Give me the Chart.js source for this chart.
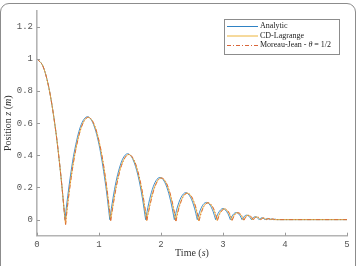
<!DOCTYPE html>
<html>
<head>
<meta charset="utf-8">
<script src="https://cdn.jsdelivr.net/npm/chart.js@4/dist/chart.umd.min.js"></script>
<style>
  html, body { margin: 0; padding: 0; background: #fff; overflow: hidden; }
  #wrap { position: relative; width: 358px; height: 266px; overflow: hidden; }
  #frame { position: absolute; left: 0; top: 3px; width: 356px; height: 290px; border: 1.3px solid #8c8c8c; border-radius: 9px; box-sizing: border-box; }
  canvas { position: absolute; left: 0; top: 0; }
</style>
</head>
<body>
<div id="wrap">
  <div id="frame"></div>
  <canvas id="chart" width="358" height="266"></canvas>
</div>
<script>
// Data
const xTicks = [0, 1, 2, 3, 4, 5];
const yTicks = [0, 0.2, 0.4, 0.6, 0.8, 1, 1.2];

const seriesLabels = ['Analytic', 'CD-Lagrange', 'Moreau-Jean - θ = 1/2'];

const analyticT = [0, 0.1, 0.2, 0.3, 0.35, 0.4, 0.4515,
  0.48, 0.55, 0.6, 0.7, 0.8128, 0.9, 1.0, 1.1, 1.14, 1.174,
  1.2, 1.25, 1.3, 1.38, 1.463, 1.55, 1.63, 1.7, 1.752,
  1.8, 1.86, 1.92, 1.983, 2.05, 2.11, 2.17, 2.215,
  2.26, 2.32, 2.40, 2.48, 2.54, 2.585,
  2.63, 2.68, 2.733, 2.79, 2.84, 2.881,
  2.92, 2.999, 3.08, 3.118,
  3.16, 3.213, 3.27, 3.307,
  3.345, 3.383, 3.42, 3.459,
  3.49, 3.52, 3.55, 3.58,
  3.628, 3.677, 3.716, 3.755, 3.786, 3.817, 3.842, 3.866, 5];
const analyticZ = [1, 0.951, 0.804, 0.559, 0.399, 0.215, 0,
  0.097, 0.301, 0.418, 0.578, 0.64, 0.603, 0.468, 0.235, 0.115, 0,
  0.07, 0.187, 0.279, 0.376, 0.41, 0.372, 0.273, 0.134, 0,
  0.098, 0.188, 0.243, 0.262, 0.24, 0.183, 0.091, 0,
  0.072, 0.136, 0.168, 0.136, 0.072, 0,
  0.055, 0.094, 0.107, 0.091, 0.051, 0,
  0.038, 0.069, 0.037, 0,
  0.03, 0.044, 0.028, 0,
  0.021, 0.028, 0.021, 0,
  0.0135, 0.018, 0.0135, 0,
  0.0115, 0, 0.0074, 0, 0.0047, 0, 0.003, 0, 0];

const cdT = [0, 0.1, 0.2, 0.3, 0.35, 0.4, 0.44, 0.46,
  0.48, 0.55, 0.62, 0.72, 0.826, 0.93, 1.03, 1.12, 1.186,
  1.22, 1.28, 1.36, 1.478, 1.58, 1.66, 1.72, 1.768,
  1.8, 1.87, 1.94, 2.003, 2.07, 2.14, 2.2, 2.236,
  2.28, 2.35, 2.422, 2.49, 2.56, 2.608,
  2.65, 2.7, 2.756, 2.81, 2.86, 2.905,
  2.94, 3.022, 3.1, 3.141,
  3.18, 3.234, 3.29, 3.33,
  3.37, 3.405, 3.44, 3.48,
  3.51, 3.54, 3.57, 3.6,
  3.647, 3.695, 3.733, 3.77, 3.8, 3.83, 5];
const cdZ = [1, 0.951, 0.804, 0.559, 0.399, 0.215, 0.05, -0.03,
  0.049, 0.262, 0.428, 0.581, 0.636, 0.583, 0.432, 0.212, -0.005,
  0.079, 0.213, 0.337, 0.405, 0.354, 0.243, 0.118, -0.005,
  0.057, 0.172, 0.24, 0.259, 0.237, 0.167, 0.069, -0.008,
  0.066, 0.14, 0.165, 0.142, 0.072, -0.008,
  0.05, 0.09, 0.105, 0.09, 0.052, -0.005,
  0.034, 0.067, 0.037, -0.004,
  0.029, 0.043, 0.028, -0.003,
  0.021, 0.027, 0.021, -0.002,
  0.013, 0.017, 0.013, 0,
  0.011, 0, 0.007, 0, 0.0045, 0, 0];

const mjT = [0, 0.1, 0.2, 0.3, 0.35, 0.4, 0.44, 0.462,
  0.482, 0.552, 0.622, 0.722, 0.828, 0.932, 1.032, 1.122, 1.19,
  1.224, 1.284, 1.364, 1.482, 1.584, 1.664, 1.724, 1.773,
  1.805, 1.875, 1.945, 2.008, 2.075, 2.145, 2.205, 2.242,
  2.286, 2.356, 2.428, 2.496, 2.566, 2.614,
  2.657, 2.707, 2.763, 2.817, 2.867, 2.912,
  2.948, 3.03, 3.108, 3.149,
  3.189, 3.243, 3.299, 3.339,
  3.38, 3.415, 3.45, 3.49,
  3.52, 3.55, 3.58, 3.61,
  3.657, 3.705, 3.743, 3.78, 3.81, 3.84, 5];
const mjZ = [1, 0.951, 0.804, 0.559, 0.399, 0.215, 0.05, -0.032,
  0.048, 0.262, 0.428, 0.581, 0.637, 0.583, 0.432, 0.212, -0.006,
  0.079, 0.213, 0.337, 0.406, 0.354, 0.243, 0.118, -0.006,
  0.057, 0.172, 0.24, 0.259, 0.237, 0.167, 0.069, -0.009,
  0.066, 0.14, 0.165, 0.142, 0.072, -0.008,
  0.05, 0.09, 0.105, 0.09, 0.052, -0.005,
  0.034, 0.067, 0.037, -0.004,
  0.029, 0.043, 0.028, -0.003,
  0.021, 0.027, 0.021, -0.002,
  0.013, 0.017, 0.013, 0,
  0.011, 0, 0.007, 0, 0.0045, 0, 0];

const colors = ['#2f82c4', '#edb43a', '#d9663a'];
const SERIF = '"Liberation Serif", "DejaVu Serif", serif';
const MONO = '"Liberation Mono", "DejaVu Sans Mono", monospace';

// Pair times with positions; break the line at each impact so every
// flight arc is smoothed on its own and the bounce corners stay sharp.
function zip(ts, zs) {
    const out = [];
    ts.forEach((t, i) => {
        out.push({ x: t, y: zs[i] });
        const isImpact = i > 0 && i < ts.length - 1 && zs[i] < zs[i - 1] && zs[i] < zs[i + 1];
        if (isImpact) {
            out.push({ x: t, y: null });
            out.push({ x: t, y: zs[i] });
        }
    });
    return out;
}

// Draw a line of text made of plain/italic runs, centred on x
function drawRuns(ctx, runs, x, y, size) {
    const widths = runs.map(([s, it]) => {
        ctx.font = (it ? 'italic ' : '') + size + 'px ' + SERIF;
        return ctx.measureText(s).width;
    });
    let cx = x - widths.reduce((a, b) => a + b, 0) / 2;
    runs.forEach(([s, it], i) => {
        ctx.font = (it ? 'italic ' : '') + size + 'px ' + SERIF;
        ctx.fillText(s, cx, y);
        cx += widths[i];
    });
}

function drawRunsLeft(ctx, runs, x, y, size) {
    let cx = x;
    runs.forEach(([s, it]) => {
        ctx.font = (it ? 'italic ' : '') + size + 'px ' + SERIF;
        ctx.fillText(s, cx, y);
        cx += ctx.measureText(s).width;
    });
}

const decorPlugin = {
    id: 'decor',
    afterDatasetsDraw(chart) {
        const ctx = chart.ctx;
        const xs = chart.scales.x, ys = chart.scales.y;
        const area = chart.chartArea;

        // inward tick marks
        ctx.save();
        ctx.strokeStyle = '#9a9a9a';
        ctx.lineWidth = 1;
        ctx.beginPath();
        xTicks.forEach(v => {
            const px = Math.round(xs.getPixelForValue(v)) + 0.5;
            ctx.moveTo(px, area.bottom);
            ctx.lineTo(px, area.bottom - 3);
        });
        yTicks.forEach(v => {
            const py = Math.round(ys.getPixelForValue(v)) + 0.5;
            ctx.moveTo(area.left, py);
            ctx.lineTo(area.left + 3, py);
        });
        ctx.stroke();

        // axis titles
        ctx.fillStyle = '#333';
        ctx.textBaseline = 'middle';
        drawRuns(ctx, [['Time (', false], ['s', true], [')', false]], (area.left + area.right) / 2, 253, 10);
        ctx.save();
        ctx.translate(8, (area.top + area.bottom) / 2);
        ctx.rotate(-Math.PI / 2);
        drawRuns(ctx, [['Position ', false], ['z', true], [' (', false], ['m', true], [')', false]], 0, 0, 10);
        ctx.restore();

        // legend box
        const bx = 224, by = 19, bw = 115, bh = 35;
        ctx.fillStyle = '#fff';
        ctx.fillRect(bx, by, bw, bh);
        ctx.strokeStyle = '#8c8c8c';
        ctx.lineWidth = 1;
        ctx.strokeRect(bx + 0.5, by + 0.5, bw, bh);
        const rows = [26, 35.5, 45];
        const runs = [
            [[seriesLabels[0], false]],
            [[seriesLabels[1], false]],
            [['Moreau-Jean - ', false], ['θ', true], [' = 1/2', false]]
        ];
        rows.forEach((ry, i) => {
            ctx.strokeStyle = colors[i];
            ctx.lineWidth = 1;
            ctx.setLineDash(i === 2 ? [4, 2, 1, 2] : []);
            ctx.beginPath();
            ctx.moveTo(227, ry + 0.5);
            ctx.lineTo(258, ry + 0.5);
            ctx.stroke();
            ctx.setLineDash([]);
            ctx.fillStyle = '#222';
            drawRunsLeft(ctx, runs[i], 260, ry, 8);
        });
        ctx.restore();
    }
};

const chart = new Chart(document.getElementById('chart').getContext('2d'), {
    type: 'line',
    data: {
        datasets: [
            { label: seriesLabels[0], data: zip(analyticT, analyticZ), borderColor: colors[0], borderWidth: 0.9, order: 3 },
            { label: seriesLabels[1], data: zip(cdT, cdZ), borderColor: colors[1], borderWidth: 0.9, order: 2 },
            { label: seriesLabels[2], data: zip(mjT, mjZ), borderColor: colors[2], borderWidth: 0.9, borderDash: [4, 2, 1, 2], order: 1 }
        ]
    },
    options: {
        responsive: false,
        animation: false,
        parsing: false,
        spanGaps: false,
        elements: { point: { radius: 0 }, line: { cubicInterpolationMode: 'monotone', fill: false } },
        layout: { padding: { top: 10.7, right: 11, left: 0, bottom: 0 } },
        plugins: { legend: { display: false }, tooltip: { enabled: false } },
        scales: {
            x: {
                type: 'linear', min: 0, max: 5,
                afterBuildTicks: s => { s.ticks = xTicks.map(v => ({ value: v })); },
                afterFit: s => { s.height = 30.3; },
                grid: { drawOnChartArea: false, drawTicks: false },
                border: { display: true, color: '#b4b4b4', width: 1.6 },
                ticks: { padding: 4, color: '#555', font: { family: MONO, size: 9 }, callback: v => String(v) }
            },
            y: {
                type: 'linear', min: -0.1, max: 1.3,
                afterBuildTicks: s => { s.ticks = yTicks.map(v => ({ value: v })); },
                afterFit: s => { s.width = 37; },
                grid: { drawOnChartArea: false, drawTicks: false },
                border: { display: true, color: '#b4b4b4', width: 1.6 },
                ticks: { padding: 4, color: '#555', font: { family: MONO, size: 9 }, callback: v => String(Math.round(v * 10) / 10) }
            }
        }
    },
    plugins: [decorPlugin]
});
</script>
</body>
</html>
